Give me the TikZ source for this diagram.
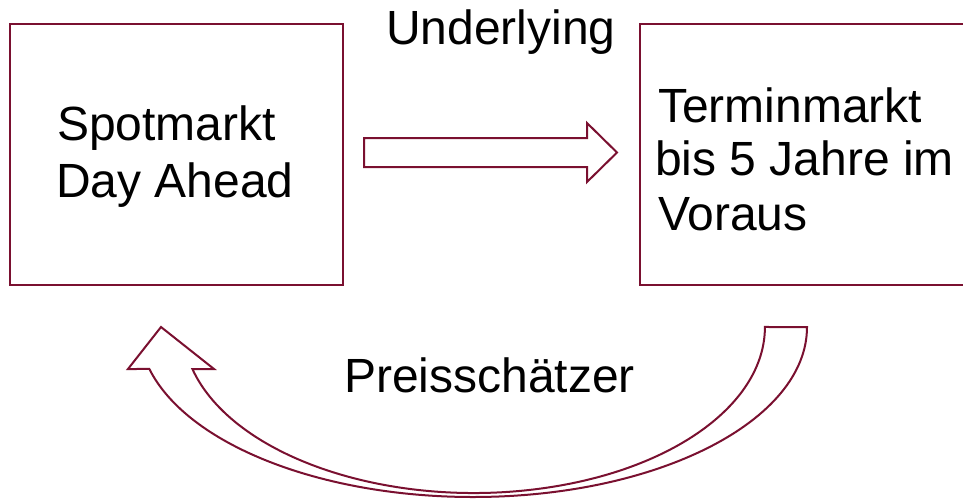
\documentclass[tikz,border=0pt]{standalone}
\usepackage{fontspec}
\setmainfont{Liberation Sans}
\definecolor{maroon}{RGB}{122,16,48}
\begin{document}
\begin{tikzpicture}[x=1pt,y=1pt,
  boxline/.style={draw=maroon,line width=2pt},
  arrowshape/.style={draw=maroon,line width=2pt,line join=miter,fill=white},
  label/.style={inner sep=0pt,outer sep=0pt,anchor=base west,font=\fontsize{48}{55}\selectfont}]
\clip (0,0) rectangle (963,-498);
\fill[white] (0,0) rectangle (963,-498);
% boxes
\draw[boxline] (10,-24) rectangle (343,-285);
\draw[boxline] (640,-24) rectangle (1000,-285);
% texts
\node[label] (spot1) at (57,-140) {Spotmarkt};
\node[label] (spot2) at (56,-197) {Day Ahead};
\node[label] (term1) at (658,-122) {Terminmarkt};
\node[label] (term2) at (655,-175) {bis 5 Jahre im};
\node[label] (term3) at (658,-230) {Voraus};
\node[label] (under) at (386,-44) {Underlying};
\node[label] (preis) at (344,-392) {Preissch\"atzer};
% straight block arrow
\coordinate (sa1) at (364,-138);
\coordinate (sa2) at (587,-138);
\coordinate (sa3) at (587,-123);
\coordinate (sa4) at (617,-152.5);
\coordinate (sa5) at (587,-182);
\coordinate (sa6) at (587,-167);
\coordinate (sa7) at (364,-167);
\draw[arrowshape] (sa1) -- (sa2) -- (sa3) -- (sa4) -- (sa5) -- (sa6) -- (sa7) -- cycle;
% curved block arrow
\coordinate (ct1) at (807,-327);
\coordinate (hl) at (128,-369);
\coordinate (tip) at (161,-327);
\coordinate (hr) at (214,-369);
\coordinate (ci) at (192.4,-369);
\draw[arrowshape] (ct1) arc[start angle=0,end angle=-165.7,x radius=334pt,y radius=170pt]
  -- (hl) -- (tip) -- (hr) -- (ci)
  arc[start angle=-165.34,end angle=0,x radius=291pt,y radius=166pt] -- cycle;
\end{tikzpicture}
\end{document}
